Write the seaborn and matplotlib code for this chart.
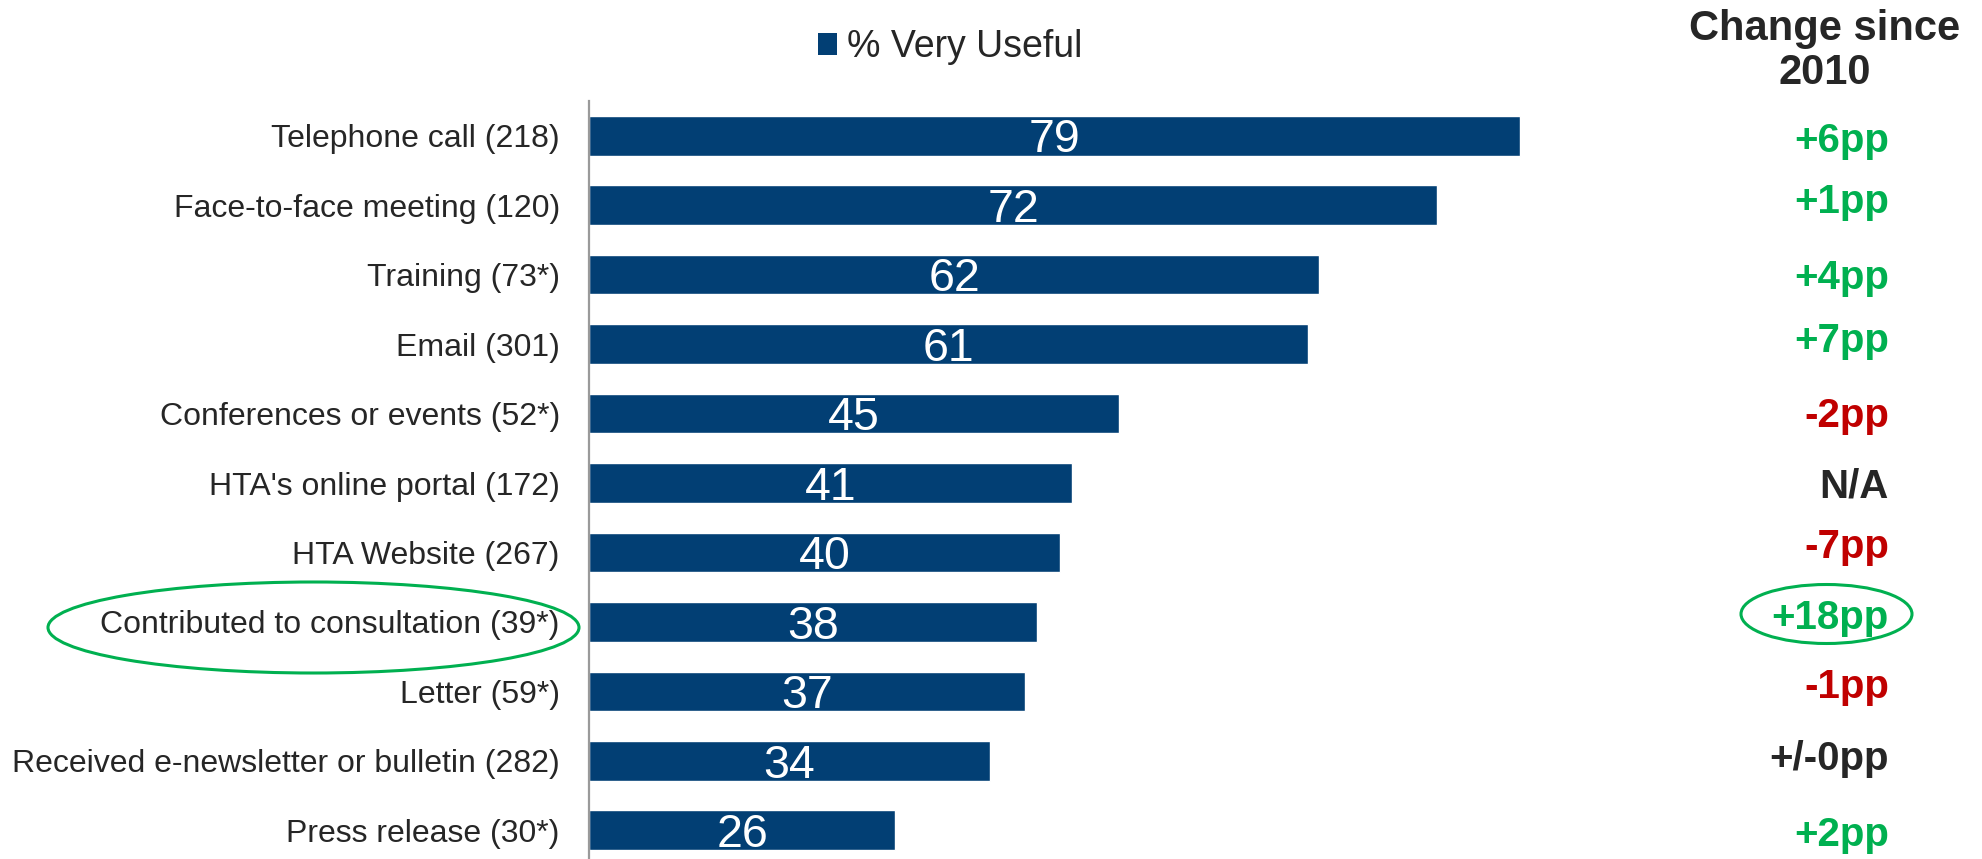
import matplotlib
matplotlib.use("Agg")
import matplotlib.pyplot as plt
import matplotlib.transforms as mtransforms
from matplotlib.patches import Patch, Ellipse
import seaborn as sns
import pandas as pd

categories = [
    "Telephone call (218)",
    "Face-to-face meeting (120)",
    "Training (73*)",
    "Email (301)",
    "Conferences or events (52*)",
    "HTA's online portal (172)",
    "HTA Website (267)",
    "Contributed to consultation (39*)",
    "Letter (59*)",
    "Received e-newsletter or bulletin (282)",
    "Press release (30*)",
]
very_useful = [79, 72, 62, 61, 45, 41, 40, 38, 37, 34, 26]
change_labels = ["+6pp", "+1pp", "+4pp", "+7pp", "-2pp", "N/A", "-7pp",
                 "+18pp", "-1pp", "+/-0pp", "+2pp"]
change_kind = ["up", "up", "up", "up", "down", "na", "down",
               "up", "down", "na", "up"]
legend_label = "% Very Useful"
header_lines = ["Change since", "2010"]

# layout nudges (pixels, upward positive) of the change column text boxes
change_nudge_px = [-1, 7, 1, 7, 2, 0, 9, 8, 8, 6, -1]

BAR = "#023F74"
GREEN = "#00B050"
RED = "#C00000"
DARK = "#262626"
kind_color = {"up": GREEN, "down": RED, "na": DARK}

sns.set_style("white")
plt.rcParams["font.family"] = ["Liberation Sans", "DejaVu Sans"]

W, H = 1983, 859
fig = plt.figure(figsize=(W / 100, H / 100), dpi=100)
ax = fig.add_axes([589 / W, 1 - 865 / H, 1178 / W, 764 / H])

df = pd.DataFrame({"category": categories, "value": very_useful})
sns.barplot(data=df, x="value", y="category", color=BAR, saturation=1,
            width=0.57, ax=ax, orient="h")
ax.set_xlim(0, 100)
ax.set_ylim(len(categories) - 0.5, -0.5)
ax.set_xlabel("")
ax.set_ylabel("")
ax.set_xticks([])
for s in ["top", "right", "bottom"]:
    ax.spines[s].set_visible(False)
ax.spines["left"].set_color("#9A9A9A")
ax.spines["left"].set_linewidth(1.6)
ax.tick_params(axis="y", length=0, pad=21, labelsize=23, labelcolor=DARK)

for c in ax.containers:
    anns = ax.bar_label(c, label_type="center", color="white", fontsize=33.5)
    for a in anns:
        a.xyann = (0, -3.4)

# legend
handle = Patch(facecolor=BAR, edgecolor="none")
fig.legend([handle], [legend_label], loc="center left",
           bbox_to_anchor=(818 / W, 1 - 47 / H), frameon=False,
           fontsize=27, handlelength=0.52, handleheight=0.52,
           handletextpad=0.25, borderpad=0, borderaxespad=0,
           labelcolor=DARK)

# header
fig.text(1825 / W, 1 - 40 / H, header_lines[0], ha="center", va="baseline",
         fontsize=30, fontweight="bold", color=DARK)
fig.text(1825 / W, 1 - 84 / H, header_lines[1], ha="center", va="baseline",
         fontsize=30, fontweight="bold", color=DARK)

# change column
trans = mtransforms.blended_transform_factory(fig.transFigure, ax.transData)
for i, (lab, kind) in enumerate(zip(change_labels, change_kind)):
    t = mtransforms.offset_copy(trans, fig=fig, x=0, y=change_nudge_px[i],
                                units="dots")
    ax.text(1889 / W, i, lab, transform=t, ha="right",
            va="center_baseline", fontsize=29, fontweight="bold",
            color=kind_color[kind], clip_on=False)

# highlight ellipses
fig.patches.append(Ellipse((313.5 / W, 1 - 627.5 / H), 531 / W, 91 / H,
                           transform=fig.transFigure, fill=False,
                           edgecolor=GREEN, linewidth=2.2))
fig.patches.append(Ellipse((1826.5 / W, 1 - 614 / H), 171 / W, 59 / H,
                           transform=fig.transFigure, fill=False,
                           edgecolor=GREEN, linewidth=2.2))

fig.savefig("out.png", dpi=100)
